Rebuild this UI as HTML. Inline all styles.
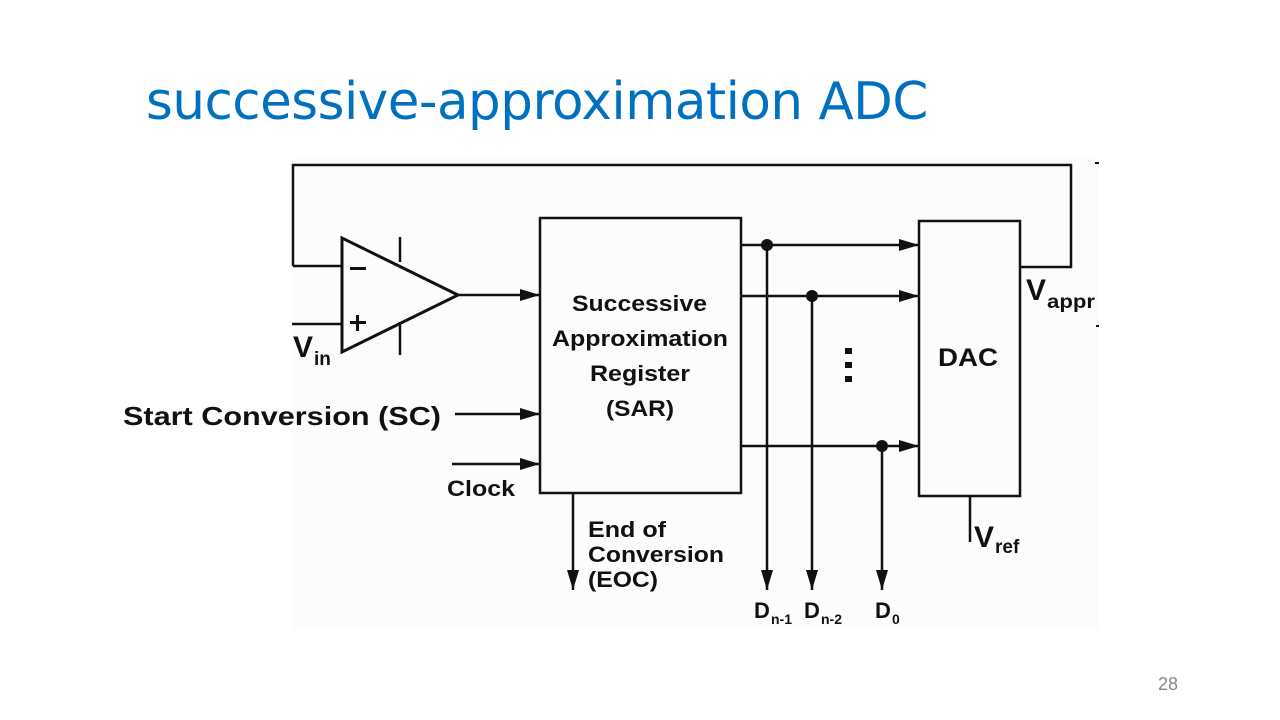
<!DOCTYPE html>
<html><head><meta charset="utf-8"><style>
body{margin:0;width:1280px;height:720px;background:#fff;overflow:hidden;position:relative;font-family:"Liberation Sans",sans-serif}
.t{position:absolute;left:146px;top:72px;font-size:51.5px;color:#0070c0;font-family:"DejaVu Sans","Liberation Sans",sans-serif;letter-spacing:-0.5px;white-space:nowrap}
.n{position:absolute;left:1158px;top:674px;font-size:18px;color:#888}
svg{position:absolute;left:0;top:0}
text{font-family:"Liberation Sans",sans-serif;font-weight:bold;fill:#111}
</style></head><body>
<div class="t">successive-approximation ADC</div>
<div class="n">28</div>
<svg width="1280" height="720" viewBox="0 0 1280 720">
<defs>
<marker id="b" viewBox="0 0 20 12" markerWidth="20" markerHeight="12" refX="20" refY="6" orient="auto" markerUnits="userSpaceOnUse"><path d="M0,0 L20,6 L0,12z" fill="#111"/></marker></defs>
<rect x="292" y="158" width="806" height="472" fill="#fcfcfc"/>
<g stroke="#111" stroke-width="2.5" fill="none">
<polyline points="293,266 293,165 1071,165 1071,267 1020,267"/>
<line x1="293" y1="266" x2="342" y2="266"/>
<line x1="292" y1="324" x2="342" y2="324"/>
<polygon points="342,238 342,352 458,295" stroke-width="3"/>
<line x1="400" y1="237" x2="400" y2="262"/>
<line x1="400" y1="322" x2="400" y2="355"/>
<line x1="458" y1="295" x2="540" y2="295" marker-end="url(#b)"/>
<rect x="540" y="218" width="201" height="275"/>
<rect x="919" y="221" width="101" height="275"/>
<line x1="741" y1="245" x2="919" y2="245" marker-end="url(#b)"/>
<line x1="741" y1="296" x2="919" y2="296" marker-end="url(#b)"/>
<line x1="741" y1="446" x2="919" y2="446" marker-end="url(#b)"/>
<line x1="767" y1="245" x2="767" y2="590" marker-end="url(#b)"/>
<line x1="812" y1="296" x2="812" y2="590" marker-end="url(#b)"/>
<line x1="882" y1="446" x2="882" y2="590" marker-end="url(#b)"/>
<line x1="970" y1="496" x2="970" y2="542"/>
<line x1="573" y1="493" x2="573" y2="590" marker-end="url(#b)"/>
<line x1="455" y1="414" x2="540" y2="414" marker-end="url(#b)"/>
<line x1="452" y1="464" x2="540" y2="464" marker-end="url(#b)"/>
</g>
<g fill="#111"><circle cx="767" cy="245" r="6"/><circle cx="812" cy="296" r="6"/><circle cx="882" cy="446" r="6"/>
<rect x="845" y="348" width="7" height="6"/><rect x="845" y="362" width="7" height="6"/><rect x="845" y="376" width="7" height="6"/>
<rect x="350" y="267" width="16" height="3"/><rect x="350" y="321" width="16" height="3"/><rect x="356" y="315" width="3" height="16"/></g>
<g font-size="22">
<text x="572" y="311" textLength="135" lengthAdjust="spacingAndGlyphs">Successive</text>
<text x="552" y="346" textLength="176" lengthAdjust="spacingAndGlyphs">Approximation</text>
<text x="590" y="381" textLength="100" lengthAdjust="spacingAndGlyphs">Register</text>
<text x="606" y="416" textLength="68" lengthAdjust="spacingAndGlyphs">(SAR)</text>
</g>
<text x="938" y="366" font-size="25" textLength="60" lengthAdjust="spacingAndGlyphs">DAC</text>
<text x="123" y="425" font-size="26" textLength="318" lengthAdjust="spacingAndGlyphs">Start Conversion (SC)</text>
<text x="447" y="496" font-size="22" textLength="68" lengthAdjust="spacingAndGlyphs">Clock</text>
<text x="588" y="537" font-size="22" textLength="78" lengthAdjust="spacingAndGlyphs">End of</text>
<text x="588" y="562" font-size="22" textLength="136" lengthAdjust="spacingAndGlyphs">Conversion</text>
<text x="588" y="587" font-size="22" textLength="70" lengthAdjust="spacingAndGlyphs">(EOC)</text>
<text x="293" y="357" font-size="30">V</text><text x="314" y="365" font-size="19">in</text>
<text x="1026" y="300" font-size="30">V</text><text x="1047" y="308" font-size="19" textLength="48" lengthAdjust="spacingAndGlyphs">appr</text>
<text x="974" y="547" font-size="30">V</text><text x="995" y="553" font-size="19">ref</text>
<text x="754" y="618" font-size="22">D</text><text x="771" y="624" font-size="14">n-1</text>
<text x="804" y="618" font-size="22">D</text><text x="821" y="624" font-size="14">n-2</text>
<text x="875" y="618" font-size="22">D</text><text x="892" y="624" font-size="14">0</text>
<rect x="1095" y="162" width="4" height="2" fill="#111"/><rect x="1096" y="325" width="3" height="2" fill="#111"/>
</svg>
</body></html>
